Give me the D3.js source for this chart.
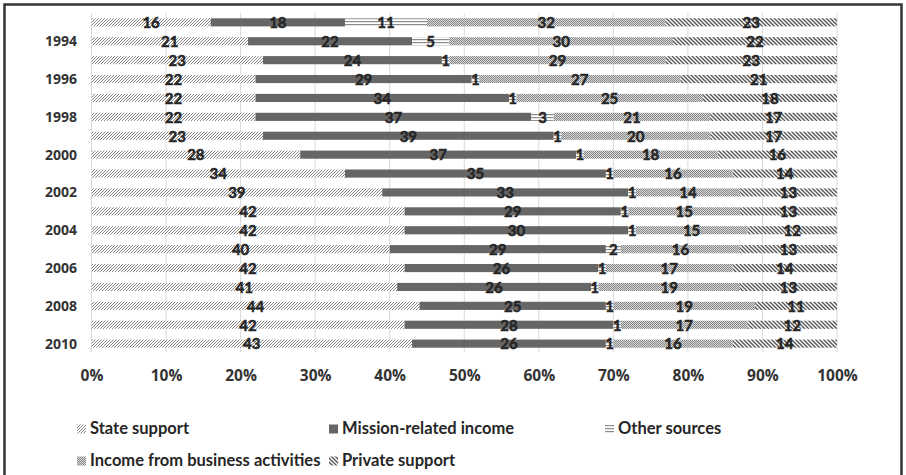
<!DOCTYPE html>
<html>
<head>
<meta charset="utf-8">
<script src="https://cdn.jsdelivr.net/npm/d3@7"></script>
<style>
  html, body { margin: 0; padding: 0; background: #fff; }
  svg { display: block; font-family: "Open Sans", Lato, sans-serif; }
</style>
</head>
<body>
<svg id="chart" width="906" height="475"></svg>
<script>
// Years shown as rows (top to bottom)
const years = [1993, 1994, 1995, 1996, 1997, 1998, 1999, 2000, 2001, 2002,
               2003, 2004, 2005, 2006, 2007, 2008, 2009, 2010];
// Only even years carry a label on the axis
const yearLabels = years.map(y => (y % 2 === 0 ? String(y) : ""));

const seriesNames = ["State support", "Mission-related income", "Other sources",
                     "Income from business activities", "Private support"];

// Share of income per source, in percent
const stateSupport    = [16, 21, 23, 22, 22, 22, 23, 28, 34, 39, 42, 42, 40, 42, 41, 44, 42, 43];
const missionIncome   = [18, 22, 24, 29, 34, 37, 39, 37, 35, 33, 29, 30, 29, 26, 26, 25, 28, 26];
const otherSources    = [11,  5,  1,  1,  1,  3,  1,  1,  1,  1,  1,  1,  2,  1,  1,  1,  1,  1];
const businessIncome  = [32, 30, 29, 27, 25, 21, 20, 18, 16, 14, 15, 15, 16, 17, 19, 19, 17, 16];
const privateSupport  = [23, 22, 23, 21, 18, 17, 17, 16, 14, 13, 13, 12, 13, 14, 13, 11, 12, 14];

const tickValues = [0, 10, 20, 30, 40, 50, 60, 70, 80, 90, 100];
const tickLabels = tickValues.map(v => v + "%");

const seriesValues = [stateSupport, missionIncome, otherSources, businessIncome, privateSupport];

const svg = d3.select("#chart");
const defs = svg.append("defs");

// Fill patterns for the five sources
function hatch(id, size, draw) {
  const p = defs.append("pattern").attr("id", id)
    .attr("patternUnits", "userSpaceOnUse")
    .attr("width", size).attr("height", size);
  p.append("rect").attr("width", size).attr("height", size).attr("fill", "#fff");
  draw(p);
}
hatch("p-state", 3, p => {
  p.append("path").attr("d", "M-1,1 L1,-1 M0,3 L3,0 M2,4 L4,2")
    .attr("stroke", "#767676").attr("stroke-width", 0.9);
});
hatch("p-other", 3, p => {
  p.append("rect").attr("y", 0).attr("width", 3).attr("height", 1.2).attr("fill", "#8c8c8c");
});
hatch("p-business", 2, p => {
  p.append("rect").attr("width", 2).attr("height", 2).attr("fill", "#dadada");
  p.append("rect").attr("x", 0).attr("y", 0).attr("width", 1).attr("height", 1).attr("fill", "#858585");
  p.append("rect").attr("x", 1).attr("y", 1).attr("width", 1).attr("height", 1).attr("fill", "#858585");
});
hatch("p-private", 4, p => {
  p.append("path").attr("d", "M-1,-1 L5,5 M-1,3 L1,5 M3,-1 L5,1")
    .attr("stroke", "#555").attr("stroke-width", 1.4);
});
const fills = ["url(#p-state)", "#666666", "url(#p-other)", "url(#p-business)", "url(#p-private)"];

// Outer frame
svg.append("rect")
  .attr("x", 4.5).attr("y", 4.5).attr("width", 897).attr("height", 480)
  .attr("fill", "none").attr("stroke", "#333").attr("stroke-width", 2.5);

const x = d3.scaleLinear().domain([0, 100]).range([91.5, 837]);
const y = d3.scaleBand().domain(years).range([13, 353]).paddingInner(0.57).paddingOuter(0.28);

// Vertical gridlines
svg.append("g").selectAll("line").data(tickValues).join("line")
  .attr("x1", d => x(d)).attr("x2", d => x(d))
  .attr("y1", 13).attr("y2", 352)
  .attr("stroke", "#d9d9d9").attr("stroke-width", 1);

// Stack the sources
const rows = years.map((yr, i) => {
  const o = { year: yr };
  seriesNames.forEach((s, k) => { o[s] = seriesValues[k][i]; });
  return o;
});
const stacked = d3.stack().keys(seriesNames)(rows);

const layers = svg.append("g").selectAll("g").data(stacked).join("g")
  .attr("fill", (d, k) => fills[k]);
layers.selectAll("rect").data(d => d).join("rect")
  .attr("x", d => x(d[0]))
  .attr("width", d => x(d[1]) - x(d[0]))
  .attr("y", d => y(d.data.year))
  .attr("height", y.bandwidth());

// Value labels, centred in each segment (thin outline makes the digits heavier)
const labels = svg.append("g")
  .attr("font-family", "Lato, sans-serif")
  .attr("font-size", 15).attr("font-weight", 700).attr("fill", "#262626")
  .attr("stroke", "#262626").attr("stroke-width", 0.5)
  .attr("text-anchor", "middle");
stacked.forEach(layer => {
  labels.selectAll(null).data(layer).join("text")
    .attr("x", d => x((d[0] + d[1]) / 2))
    .attr("y", d => y(d.data.year) + y.bandwidth() / 2 + 5.8)
    .text(d => d[1] - d[0]);
});

// Year axis
const yAxis = d3.axisLeft(y).tickSize(0).tickPadding(0)
  .tickFormat((d, i) => yearLabels[i]);
const gy = svg.append("g").attr("transform", "translate(77,0)").call(yAxis);
gy.select(".domain").remove();
gy.selectAll("text").attr("font-size", 14).attr("font-weight", 700)
  .attr("fill", "#333").attr("font-family", "'Open Sans', sans-serif")
  .attr("dy", "0.36em");

// Percentage axis
const xAxis = d3.axisBottom(x).tickValues(tickValues).tickSize(0).tickPadding(0)
  .tickFormat((d, i) => tickLabels[i]);
const gx = svg.append("g").attr("transform", "translate(0,370)").call(xAxis);
gx.select(".domain").remove();
gx.selectAll("text").attr("font-size", 15.5).attr("font-weight", 700)
  .attr("fill", "#333").attr("font-family", "'Open Sans', sans-serif");

// Legend
const legendPos = [[77, 434], [329, 434], [605, 434], [77, 466], [329, 466]];
const legend = svg.append("g").selectAll("g").data(seriesNames).join("g")
  .attr("transform", (d, i) => `translate(${legendPos[i][0]},${legendPos[i][1]})`);
legend.append("rect")
  .attr("x", 0).attr("y", -9.5).attr("width", 9).attr("height", 9)
  .attr("fill", (d, i) => fills[i]);
legend.append("text")
  .attr("x", 13).attr("y", 0)
  .attr("font-family", "Lato, sans-serif")
  .attr("font-size", 16.5).attr("font-weight", 700).attr("fill", "#262626")
  .text(d => d);
</script>
</body>
</html>
